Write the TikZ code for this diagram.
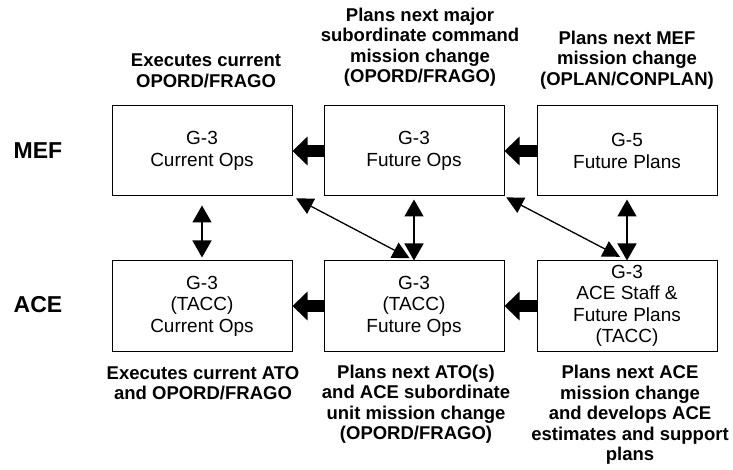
\documentclass[tikz,border=0pt]{standalone}
\usepackage{fontspec}
\setmainfont{Liberation Sans}
\usetikzlibrary{arrows.meta}
\newcommand{\boxfont}{\fontsize{19}{21.5}\selectfont}
\newcommand{\lblfont}{\fontsize{18.5}{20.5}\selectfont\bfseries}
\newcommand{\rowfont}{\fontsize{23}{26}\selectfont\bfseries}
\begin{document}
\begin{tikzpicture}[x=1pt,y=-1pt,
  box/.style={draw, line width=1pt, minimum width=180pt, minimum height=90pt, inner sep=0pt, align=center, font=\boxfont},
  lbl/.style={align=center, font=\lblfont, inner sep=0pt},
  rowlbl/.style={font=\rowfont, inner sep=0pt},
  blockarr/.style={line width=12pt, -{Triangle[length=15pt,width=28pt]}},
  dbl/.style={line width=1.5pt, {Triangle[length=17pt,width=19pt]}-{Triangle[length=17pt,width=19pt]}},
  diag/.style={line width=1.3pt, {Triangle[length=17pt,width=17pt]}-{Triangle[length=17pt,width=17pt]}}
]
\useasboundingbox[fill=white] (0,0) rectangle (733,470);

% row labels
\node[rowlbl] (mef) at (38,151) {MEF};
\node[rowlbl] (ace) at (38,305) {ACE};

% boxes
\node[box] (cur)  at (202,151) {G-3\\Current Ops};
\node[box] (fut)  at (414,151) {G-3\\Future Ops};
\node[box] (plan) at (627,151) {G-5\\Future Plans};
\node[box] (acur) at (202,306) {G-3\\(TACC)\\Current Ops};
\node[box] (afut) at (414,306) {G-3\\(TACC)\\Future Ops};
\node[box] (aplan) at (627,306) {G-3\\ACE Staff \&\\Future Plans\\(TACC)};

% labels
\node[lbl] (l1) at (206,71) {Executes current\\OPORD/FRAGO};
\node[lbl] (l2) at (420,47) {Plans next major\\subordinate command\\mission change\\(OPORD/FRAGO)};
\node[lbl] (l3) at (627,60) {Plans next MEF\\mission change\\(OPLAN/CONPLAN)};
\node[lbl] (l4) at (203,383) {Executes current ATO\\and OPORD/FRAGO};
\node[lbl] (l5) at (416,404) {Plans next ATO(s)\\and ACE subordinate\\unit mission change\\(OPORD/FRAGO)};
\node[lbl] (l6) at (630,415) {Plans next ACE\\mission change\\and develops ACE\\estimates and support\\plans};

% block arrows
\draw[blockarr] (fut.west) -- (cur.east);
\draw[blockarr] (plan.west) -- (fut.east);
\draw[blockarr] (afut.west) -- (acur.east);
\draw[blockarr] (aplan.west) -- (afut.east);

% vertical double arrows
\draw[dbl, shorten <=9pt, shorten >=3pt] (cur.south) -- (acur.north);
\draw[dbl, shorten <=3pt] (fut.south) -- (afut.north);
\draw[dbl, shorten <=3pt] (plan.south) -- (aplan.north);

% diagonal double arrows
\draw[diag, shorten <=4pt, shorten >=5pt] (cur.south east) -- (afut.north);
\draw[diag, shorten <=2pt, shorten >=8pt] (fut.south east) -- (aplan.north);
\end{tikzpicture}
\end{document}
